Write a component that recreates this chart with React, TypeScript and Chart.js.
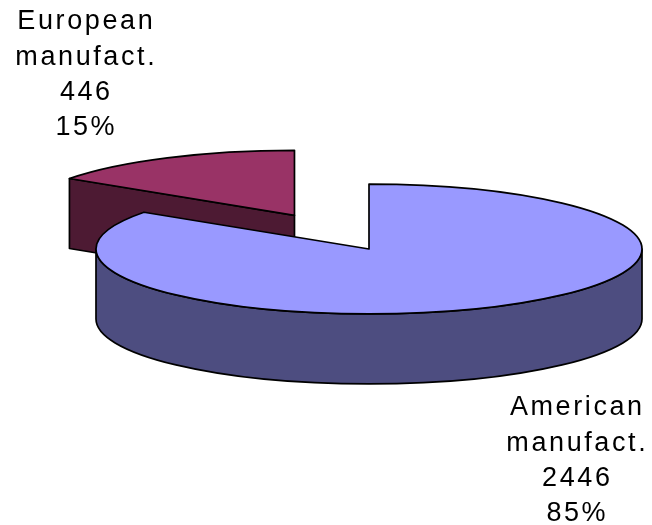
import React, { useEffect, useRef } from 'react';
import { Chart, registerables } from 'chart.js';
Chart.register(...registerables);

// ---- data ----
const categories = ['American manufact.', 'European manufact.'];
const values = [2446, 446];
const topColors = ['#9999FF', '#993366'];
const sideColors = ['#4D4D80', '#4D1A33'];
const explodeOffsets = [0, 160];
const labelAnchors: [number, number][] = [[576, 408], [85, 22]];

// ---- 3D look ----
const SQUASH = 0.238;
const DEPTH = 70;
const EDGE = '#000000';
const EDGE_W = 1.7;

const pie3d = {
  id: 'pie3d',
  beforeDatasetsDraw(chart: any) {
    const ctx: CanvasRenderingContext2D = chart.ctx;
    const meta = chart.getDatasetMeta(0);
    const arcs = meta.data;
    if (!arcs.length) return false;
    const cy0 = arcs[0].y;
    const items = arcs.map((arc: any, i: number) => {
      const p = arc.getProps(['x', 'y', 'startAngle', 'endAngle', 'outerRadius'], true);
      const mid = (p.startAngle + p.endAngle) / 2;
      const ox = Math.cos(mid) * explodeOffsets[i];
      const oy = Math.sin(mid) * explodeOffsets[i];
      return { arc, i, p, ox, oy, mid };
    });
    items.sort((a: any, b: any) => (a.oy + Math.sin(a.mid) * 50) - (b.oy + Math.sin(b.mid) * 50));

    for (const it of items) {
      const { arc, i, p, ox, oy } = it;
      const R = p.outerRadius;
      const cx = p.x + ox;
      const cyS = cy0 + (p.y + oy - cy0) * SQUASH;
      const pt = (a: number, d: number) => [cx + R * Math.cos(a), cyS + R * SQUASH * Math.sin(a) + d];
      ctx.save();
      ctx.lineWidth = EDGE_W;
      ctx.strokeStyle = EDGE;
      ctx.lineJoin = 'round';
      ctx.fillStyle = sideColors[i];
      // cut faces
      const edges: [number, boolean][] = [[p.startAngle, true], [p.endAngle, false]];
      for (const [a, isStart] of edges) {
        const ny = isStart ? -Math.cos(a) : Math.cos(a);
        if (ny <= 1e-6) continue;
        const c0 = pt(a, 0), c1 = pt(a, DEPTH);
        ctx.beginPath();
        ctx.moveTo(cx, cyS);
        ctx.lineTo(c0[0], c0[1]);
        ctx.lineTo(c1[0], c1[1]);
        ctx.lineTo(cx, cyS + DEPTH);
        ctx.closePath();
        ctx.fill();
        ctx.stroke();
      }
      // curved front face
      for (const base of [-2 * Math.PI, 0, 2 * Math.PI]) {
        const a1 = Math.max(p.startAngle, base);
        const a2 = Math.min(p.endAngle, base + Math.PI);
        if (a2 - a1 <= 1e-6) continue;
        ctx.beginPath();
        ctx.ellipse(cx, cyS, R, R * SQUASH, 0, a1, a2, false);
        const b2 = pt(a2, DEPTH);
        ctx.lineTo(b2[0], b2[1]);
        ctx.ellipse(cx, cyS + DEPTH, R, R * SQUASH, 0, a2, a1, true);
        ctx.closePath();
        ctx.fill();
        ctx.stroke();
      }
      ctx.restore();
      // top face via the library's arc element
      ctx.save();
      ctx.transform(1, 0, 0, SQUASH, ox, cy0 + (oy - cy0) * SQUASH);
      arc.draw(ctx);
      ctx.restore();
      // outline of top face
      ctx.save();
      ctx.lineWidth = EDGE_W;
      ctx.strokeStyle = EDGE;
      ctx.lineJoin = 'round';
      ctx.beginPath();
      ctx.moveTo(cx, cyS);
      ctx.ellipse(cx, cyS, R, R * SQUASH, 0, p.startAngle, p.endAngle, false);
      ctx.closePath();
      ctx.stroke();
      ctx.restore();
    }
    return false;
  },
  afterDraw(chart: any) {
    const ctx: CanvasRenderingContext2D = chart.ctx;
    const total = values.reduce((s, v) => s + v, 0);
    ctx.save();
    ctx.fillStyle = '#000000';
    ctx.font = '27px "Liberation Sans", Arial, sans-serif';
    ctx.textAlign = 'center';
    ctx.textBaseline = 'middle';
    (ctx as any).letterSpacing = '2.6px';
    categories.forEach((cat, i) => {
      const lines = [...cat.split(' '), String(values[i]), Math.round((values[i] / total) * 100) + '%'];
      const [x, y] = labelAnchors[i];
      lines.forEach((ln, k) => ctx.fillText(ln, x + 1.3, y + k * 35.3));
    });
    ctx.restore();
  },
};

export default function App() {
  const ref = useRef<HTMLCanvasElement | null>(null);
  useEffect(() => {
    if (!ref.current) return;
    const chart = new Chart(ref.current, {
      type: 'pie',
      data: {
        labels: categories,
        datasets: [
          {
            data: values,
            backgroundColor: topColors,
            borderWidth: 0,
            borderColor: 'rgba(0,0,0,0)',
          },
        ],
      },
      options: {
        responsive: false,
        animation: false,
        events: [],
        radius: 273,
        layout: { padding: { left: 86, right: 0, top: 0, bottom: 27 } },
        plugins: { legend: { display: false }, tooltip: { enabled: false } },
      } as any,
      plugins: [pie3d],
    });
    return () => chart.destroy();
  }, []);
  return (
    <div style={{ position: 'fixed', left: 0, top: 0, width: 652, height: 525, background: '#fff' }}>
      <canvas ref={ref} width={652} height={525} style={{ width: 652, height: 525, display: 'block' }} />
    </div>
  );
}
